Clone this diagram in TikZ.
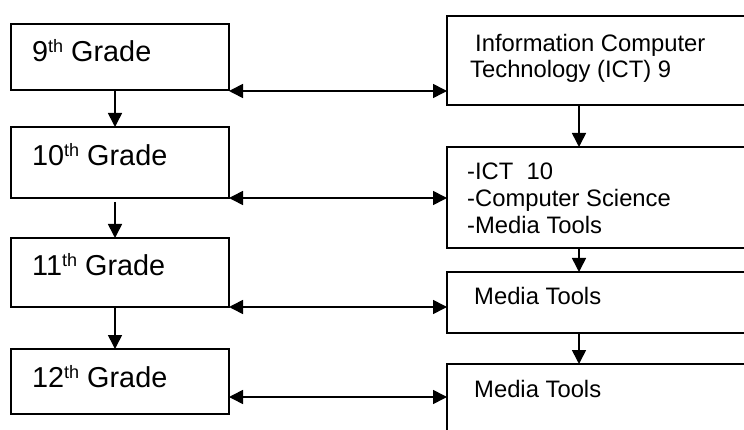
\documentclass[tikz,border=0pt]{standalone}
\usepackage{fontspec}
\setmainfont{Liberation Sans}
\usetikzlibrary{arrows.meta}
% raised ordinal suffix (th) in the grade labels
\newcommand\ordsuf[1]{\raisebox{9pt}{\fontsize{18}{18}\selectfont #1}}

\begin{document}
\begin{tikzpicture}[x=1pt,y=-1pt,
  box/.style={draw, line width=2pt, rectangle, inner sep=0pt, outer sep=0pt,
              anchor=north west},
  gradebox/.style={box, minimum width=218pt},
  coursebox/.style={box, minimum width=313pt},
  gradetxt/.style={anchor=base west, inner sep=0pt,
                   font=\fontsize{28.8}{30}\selectfont},
  coursetxt/.style={anchor=base west, inner sep=0pt,
                    font=\fontsize{23.8}{26}\selectfont},
  arr/.style={line width=1.6pt, -{Triangle[length=14pt,width=14pt]}},
  dblarr/.style={line width=1.6pt,
                 {Triangle[length=14pt,width=14pt]}-{Triangle[length=14pt,width=14pt]}}]

\useasboundingbox (0,0) rectangle (744,430);
\fill[white] (0,0) rectangle (744,430);
\clip (0,0) rectangle (744,430);

% grade boxes
\node[gradebox, minimum height=66pt] (g9)  at (11,24)  {};
\node[gradebox, minimum height=71pt] (g10) at (11,127) {};
\node[gradebox, minimum height=69pt] (g11) at (11,238) {};
\node[gradebox, minimum height=65pt] (g12) at (11,349) {};

\node[gradetxt] (t9)  at (32,62)  {9\ordsuf{th} Grade};
\node[gradetxt] (t10) at (32,166) {10\ordsuf{th} Grade};
\node[gradetxt] (t11) at (32,276) {11\ordsuf{th} Grade};
\node[gradetxt] (t12) at (32,387) {12\ordsuf{th} Grade};

% course boxes
\node[coursebox, minimum height=89pt]  (c9)  at (447,16)  {};
\node[coursebox, minimum height=101pt] (c10) at (447,147) {};
\node[coursebox, minimum height=61pt]  (c11) at (447,272) {};
\node[coursebox, minimum height=80pt]  (c12) at (447,364) {};

\node[coursetxt] (s9a)  at (475,52)  {Information Computer};
\node[coursetxt] (s9b)  at (470,78)  {Technology (ICT) 9};
\node[coursetxt] (s10a) at (467,180) {-ICT\ \ 10};
\node[coursetxt] (s10b) at (467,207) {-Computer Science};
\node[coursetxt] (s10c) at (467,234) {-Media Tools};
\node[coursetxt] (s11)  at (474,305) {Media Tools};
\node[coursetxt] (s12)  at (474,397) {Media Tools};

% progression between grades
\draw[arr] ([xshift=-5pt]g9.south) -- ([xshift=-5pt]g10.north);
\draw[arr] ([xshift=-5pt,yshift=-4pt]g10.south) -- ([xshift=-5pt]g11.north);
\draw[arr] ([xshift=-5pt]g11.south) -- ([xshift=-5pt]g12.north);

% progression between courses
\draw[arr] ([xshift=-24.5pt]c9.south)  -- ([xshift=-24.5pt]c10.north);
\draw[arr] ([xshift=-24.5pt]c10.south) -- ([xshift=-24.5pt]c11.north);
\draw[arr] ([xshift=-24.5pt]c11.south) -- ([xshift=-24.5pt]c12.north);

% grade <-> course links
\coordinate (l9)  at ([yshift=-1pt]g9.south east);
\coordinate (l10) at (g10.south east);
\coordinate (l11) at (g11.south east);
\coordinate (l12) at ([yshift=-15.5pt]g12.east);
\draw[dblarr] (l9)  -- (l9 -| c9.west);
\draw[dblarr] (l10) -- (l10 -| c10.west);
\draw[dblarr] (l11) -- (l11 -| c11.west);
\draw[dblarr] (l12) -- (l12 -| c12.west);

\end{tikzpicture}
\end{document}
